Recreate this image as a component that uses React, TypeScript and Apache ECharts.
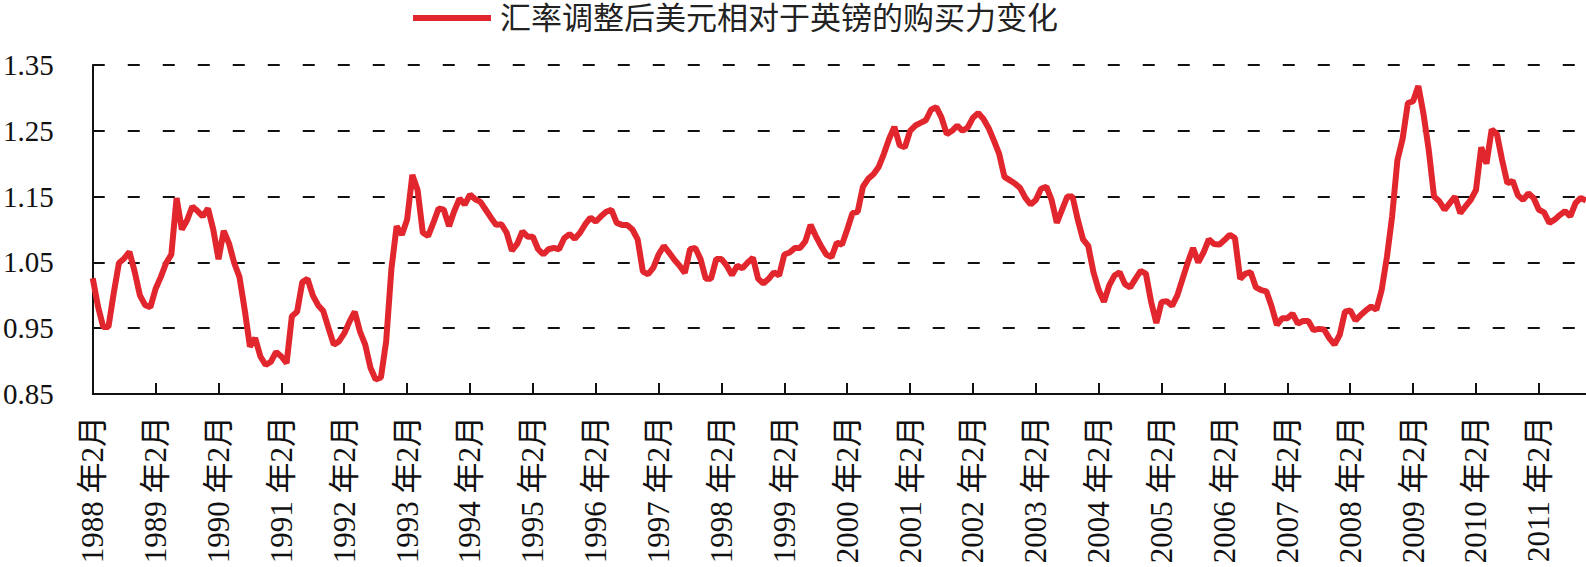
import React, { useEffect, useRef } from "react";
import * as echarts from "echarts";

// Monthly index values, starting February 1988
const values1988to1991 = [
  1.026, 0.983, 0.952, 0.952, 1.003, 1.049, 1.056, 1.066, 1.036, 1.0, 0.985, 0.982,
  1.01, 1.028, 1.049, 1.062, 1.148, 1.1, 1.114, 1.135, 1.128, 1.12, 1.132, 1.1,
  1.055, 1.098, 1.079, 1.049, 1.028, 0.978, 0.922, 0.935, 0.907, 0.894, 0.899, 0.914,
  0.907, 0.897, 0.968, 0.975, 1.02, 1.025, 1.0, 0.985, 0.976, 0.95, 0.925, 0.93,
];
const values1992to1995 = [
  0.942, 0.96, 0.975, 0.945, 0.925, 0.89, 0.872, 0.875, 0.93, 1.04, 1.105, 1.092,
  1.115, 1.183, 1.16, 1.095, 1.09, 1.11, 1.132, 1.13, 1.105, 1.128, 1.147, 1.138,
  1.153, 1.146, 1.142, 1.13, 1.118, 1.107, 1.108, 1.095, 1.068, 1.078, 1.097, 1.089,
  1.089, 1.07, 1.062, 1.07, 1.072, 1.07, 1.087, 1.093, 1.086, 1.095, 1.108, 1.118,
];
const values1996to1999 = [
  1.112, 1.12, 1.127, 1.13, 1.11, 1.107, 1.107, 1.1, 1.085, 1.036, 1.032, 1.042,
  1.062, 1.075, 1.065, 1.054, 1.045, 1.034, 1.07, 1.072, 1.055, 1.025, 1.025, 1.055,
  1.055, 1.045, 1.031, 1.045, 1.041, 1.05, 1.057, 1.025, 1.018, 1.025, 1.035, 1.03,
  1.062, 1.065, 1.072, 1.072, 1.082, 1.107, 1.09, 1.075, 1.062, 1.058, 1.08, 1.077,
];
const values2000to2003 = [
  1.1, 1.125, 1.127, 1.165, 1.177, 1.184, 1.195, 1.215, 1.238, 1.256, 1.228, 1.225,
  1.25, 1.258, 1.262, 1.266, 1.282, 1.286, 1.27, 1.245, 1.25, 1.258, 1.25, 1.255,
  1.27, 1.277, 1.268, 1.254, 1.235, 1.215, 1.18, 1.175, 1.17, 1.163, 1.148, 1.138,
  1.145, 1.162, 1.165, 1.145, 1.11, 1.13, 1.15, 1.15, 1.115, 1.085, 1.075, 1.035,
];
const values2004to2007 = [
  1.008, 0.99, 1.015, 1.03, 1.035, 1.017, 1.012, 1.025, 1.037, 1.033, 0.99, 0.958,
  0.99, 0.991, 0.984, 1.0, 1.025, 1.05, 1.072, 1.05, 1.065, 1.085, 1.078, 1.077,
  1.084, 1.092, 1.087, 1.025, 1.033, 1.035, 1.012, 1.008, 1.006, 0.983, 0.955, 0.965,
  0.965, 0.972, 0.957, 0.961, 0.961, 0.947, 0.949, 0.948, 0.935, 0.925, 0.94, 0.975,
];
const values2008to2011 = [
  0.977, 0.962, 0.97, 0.977, 0.983, 0.978, 1.008, 1.058, 1.12, 1.205, 1.238, 1.292,
  1.295, 1.318, 1.275, 1.22, 1.15, 1.143, 1.13, 1.14, 1.15, 1.125, 1.135, 1.145,
  1.16, 1.225, 1.2, 1.252, 1.245, 1.205, 1.17, 1.174, 1.152, 1.145, 1.155, 1.148,
  1.13, 1.126, 1.11, 1.115, 1.122, 1.128, 1.12, 1.14, 1.148, 1.144,
];

const seriesName = "汇率调整后美元相对于英镑的购买力变化";
const startYear = 1988;
const startMonth = 2;
const yTicks = { min: 0.85, max: 1.35, step: 0.1 };

const values = [
  ...values1988to1991,
  ...values1992to1995,
  ...values1996to1999,
  ...values2000to2003,
  ...values2004to2007,
  ...values2008to2011,
];

const categories = values.map((_, i) => {
  const m0 = startMonth - 1 + i;
  const year = startYear + Math.floor(m0 / 12);
  const month = (m0 % 12) + 1;
  return `${year} 年${month}月`;
});

const FONT = "'Liberation Serif', 'Noto Sans CJK SC', serif";

export default function App() {
  const ref = useRef<HTMLDivElement>(null);
  useEffect(() => {
    document.body.style.margin = "0";
    if (!ref.current) return;
    const chart = echarts.init(ref.current, null, { renderer: "svg" });
    chart.setOption({
      animation: false,
      backgroundColor: "#ffffff",
      legend: {
        data: [{ name: seriesName, icon: "rect" }],
        left: 413,
        top: 2,
        padding: 0,
        itemWidth: 78,
        itemHeight: 6,
        textStyle: {
          fontSize: 31,
          lineHeight: 32,
          fontFamily: FONT,
          color: "#222",
          padding: [0, 0, 0, 4],
        },
      },
      grid: { left: 91, right: 0, top: 65, bottom: 173, containLabel: false },
      xAxis: {
        type: "category",
        data: categories,
        boundaryGap: false,
        axisLine: { show: true, lineStyle: { color: "#111", width: 2 } },
        axisTick: {
          show: true,
          inside: true,
          length: 11,
          interval: 11,
          lineStyle: { color: "#111", width: 2 },
        },
        axisLabel: {
          interval: 11,
          rotate: 90,
          margin: 22,
          fontSize: 31,
          color: "#111",
          fontFamily: FONT,
        },
        splitLine: { show: false },
      },
      yAxis: {
        type: "value",
        min: yTicks.min,
        max: yTicks.max,
        interval: yTicks.step,
        axisLine: { show: true, lineStyle: { color: "#111", width: 2 } },
        axisTick: { show: false },
        axisLabel: {
          fontSize: 29,
          color: "#111",
          fontFamily: FONT,
          margin: 39,
          formatter: (v: number) => v.toFixed(2),
        },
        splitLine: {
          show: true,
          lineStyle: { color: "#111", width: 2, type: [12, 23] },
        },
      },
      series: [
        {
          name: seriesName,
          type: "line",
          data: values,
          symbol: "none",
          showSymbol: false,
          lineStyle: { color: "#e2262d", width: 6 },
          itemStyle: { color: "#e2262d" },
        },
      ],
    });
    return () => chart.dispose();
  }, []);
  return <div ref={ref} style={{ width: 1586, height: 567 }} />;
}
